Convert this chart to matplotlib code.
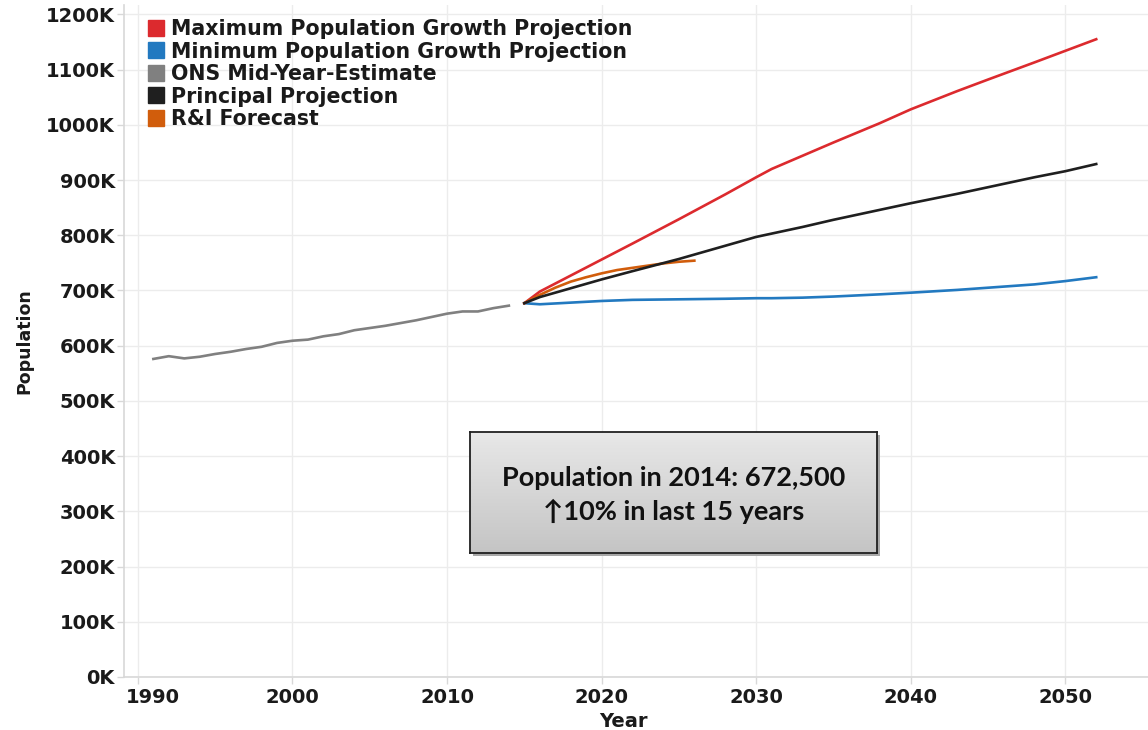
import numpy as np
import matplotlib
matplotlib.use("Agg")
import matplotlib.pyplot as plt
from matplotlib.lines import Line2D
from matplotlib.ticker import FuncFormatter, MultipleLocator
import matplotlib.transforms as mtransforms

# ---------------- data (population, thousands) ----------------
ons_years = list(range(1991, 2015))
ons_vals = [576, 581, 577, 580, 585, 589, 594, 598, 605, 609, 611, 617,
            621, 628, 632, 636, 641, 646, 652, 658, 662, 662, 668, 672.5]

proj_years = [2015, 2016, 2018, 2020, 2022, 2025, 2028, 2030, 2031, 2033,
              2035, 2038, 2040, 2043, 2045, 2048, 2050, 2052]
max_vals = [677, 698, 727, 756, 785, 829, 874, 905, 920, 944,
            968, 1003, 1028, 1061, 1082, 1113, 1134, 1155]
principal_vals = [677, 688, 704, 720, 735, 757, 781, 797, 803, 815,
                  828, 846, 858, 875, 887, 905, 916, 929]
min_vals = [677, 675, 678, 681, 683, 684, 685, 686, 686, 687,
            689, 693, 696, 701, 705, 711, 717, 724]

ri_years = list(range(2015, 2027))
ri_vals = [677, 692, 705, 716, 724, 731, 737, 741, 745, 749, 752, 754]

series_names = ["Maximum Population Growth Projection",
                "Minimum Population Growth Projection",
                "ONS Mid-Year-Estimate",
                "Principal Projection",
                "R&I Forecast"]
series_colors = ["#dc2a2e", "#2279c0", "#808080", "#1f1f1f", "#d15d0c"]

x_ticks = [1990, 2000, 2010, 2020, 2030, 2040, 2050]
annot_lines = ["Population in 2014: 672,500", "\u219110% in last 15 years"]

# ---------------- figure ----------------
W, H = 1148, 730
fig = plt.figure(figsize=(W / 100, H / 100), dpi=100)
ax = fig.add_axes([124 / W, 1 - 677 / H, 1 - 124 / W, (677 - 5) / H])

FONT = "DejaVu Sans"
lw = 1.9
ax.plot(ons_years, np.array(ons_vals) * 1000, color=series_colors[2], lw=lw, zorder=3)
ax.plot(proj_years, np.array(min_vals) * 1000, color=series_colors[1], lw=lw, zorder=3)
ax.plot(proj_years, np.array(max_vals) * 1000, color=series_colors[0], lw=lw, zorder=3)
ax.plot(ri_years, np.array(ri_vals) * 1000, color=series_colors[4], lw=lw, zorder=4)
ax.plot(proj_years, np.array(principal_vals) * 1000, color=series_colors[3], lw=lw, zorder=5)

ax.set_xlim(1989.1, 2055.35)
ax.set_ylim(0, 1217000)
ax.set_xticks(x_ticks)
ax.yaxis.set_major_locator(MultipleLocator(100000))
ax.yaxis.set_major_formatter(FuncFormatter(lambda v, p: f"{int(round(v / 1000))}K"))

ax.grid(True, color="#ececec", lw=1.0)
ax.set_axisbelow(True)
for s in ["top", "right"]:
    ax.spines[s].set_visible(False)
for s in ["left", "bottom"]:
    ax.spines[s].set_color("#d8d8d8")
    ax.spines[s].set_linewidth(1.2)

ax.tick_params(axis="both", colors="#d8d8d8", length=5, width=1, labelcolor="#1a1a1a")
for lab in ax.get_xticklabels() + ax.get_yticklabels():
    lab.set_fontfamily(FONT)
    lab.set_fontweight("bold")
    lab.set_fontsize(14)
ax.tick_params(axis="x", pad=3)
ax.tick_params(axis="y", pad=1.5)
# first x label shifted right (as in reference)
first = ax.get_xticklabels()[0]
first.set_transform(first.get_transform() + mtransforms.ScaledTranslation(15 / 100, 0, fig.dpi_scale_trans))

ax.set_xlabel("Year", family=FONT, weight="bold", size=14, color="#1a1a1a", va="top")
ax.set_ylabel("Population", family=FONT, weight="bold", size=12.5, color="#1a1a1a", labelpad=9)
ax.xaxis.set_label_coords((623 - 124) / (W - 124), -(712 - 677) / 672)

handles = [Line2D([], [], marker="s", linestyle="", markersize=11,
                  markerfacecolor=c, markeredgecolor=c) for c in series_colors]
leg = ax.legend(handles, series_names, loc="upper left",
                bbox_to_anchor=((140 - 124) / (W - 124), 1 - (11 - 5) / 672),
                frameon=False, handlelength=0.75, handletextpad=0.35,
                labelspacing=0.12, borderaxespad=0,
                prop=dict(family=FONT, weight="bold", size=14.8))
for t in leg.get_texts():
    t.set_color("#1a1a1a")

# ---------------- annotation box ----------------
bx0, by0, bx1, by1 = 470, 432, 877, 553
# shadow
sh = fig.add_axes([(bx0 + 3) / W, 1 - (by1 + 3) / H, (bx1 - bx0) / W, (by1 - by0) / H])
sh.set_facecolor("#a8a8a8")
sh.set_xticks([]); sh.set_yticks([])
for s in sh.spines.values():
    s.set_visible(False)
box = fig.add_axes([bx0 / W, 1 - by1 / H, (bx1 - bx0) / W, (by1 - by0) / H])
grad = np.linspace(0, 1, 256).reshape(-1, 1)
top_c = np.array([0.91, 0.91, 0.91])
bot_c = np.array([0.77, 0.77, 0.77])
img = top_c[None, None, :] * (1 - grad[:, :, None]) + bot_c[None, None, :] * grad[:, :, None]
box.imshow(img, aspect="auto", extent=[0, 1, 0, 1], origin="upper")
box.set_xlim(0, 1); box.set_ylim(0, 1)
box.set_xticks([]); box.set_yticks([])
for s in box.spines.values():
    s.set_color("#202020")
    s.set_linewidth(1.3)
box.text(0.5, 1 - (478 - by0) / (by1 - by0), annot_lines[0], ha="center", va="center",
         family=["Lato", "DejaVu Sans"], weight="bold", size=19.5, color="#111111")
box.text(0.5, 1 - (511 - by0) / (by1 - by0), annot_lines[1], ha="center", va="center",
         family=["Lato", "DejaVu Sans"], weight="bold", size=19.5, color="#111111")

fig.savefig("out.png", dpi=100)
